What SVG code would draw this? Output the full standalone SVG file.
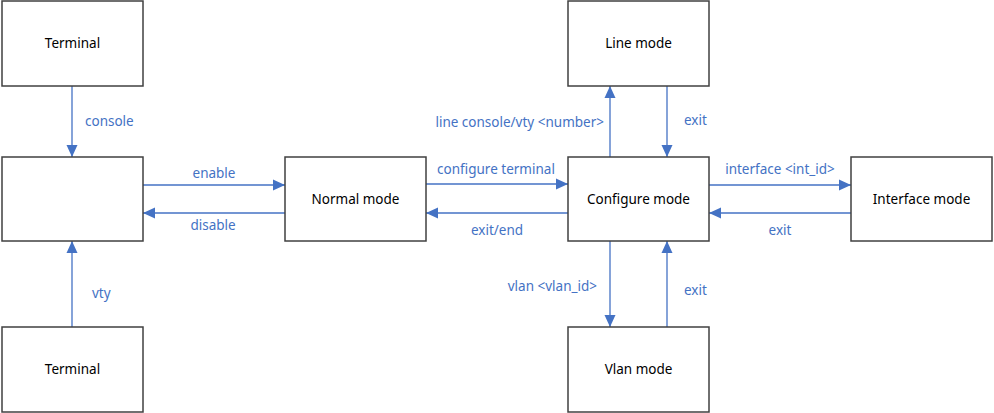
<svg xmlns="http://www.w3.org/2000/svg" width="994" height="413" viewBox="0 0 994 413">
<defs>
<marker id="ah" markerWidth="12" markerHeight="12" viewBox="0 0 12 12" refX="12" refY="6" orient="auto" markerUnits="userSpaceOnUse">
<path d="M0,0.5 L12,6 L0,11.5 Z" fill="#4472C4"/>
</marker>
<style>
.box{fill:#FFFFFF;stroke:#404040;stroke-width:1.5}
.nl{font-family:"Segoe UI","Noto Sans","Open Sans",sans-serif;font-size:13.5px;fill:#000000;text-anchor:middle}
.el{font-family:"Segoe UI","Noto Sans","Open Sans",sans-serif;font-size:13.5px;fill:#4472C4}
.cn{stroke:#4472C4;stroke-width:1.3;fill:none;marker-end:url(#ah)}
</style>
</defs>
<rect width="994" height="413" fill="#FFFFFF"/>
<g id="connectors">
<line class="cn" x1="72" y1="86" x2="72" y2="157"/>
<text class="el" x="85" y="126">console</text>
<line class="cn" x1="72" y1="327" x2="72" y2="241"/>
<text class="el" x="92" y="298">vty</text>
<line class="cn" x1="143" y1="185" x2="285" y2="185"/>
<text class="el" x="214" y="178" text-anchor="middle">enable</text>
<line class="cn" x1="285" y1="213" x2="143" y2="213"/>
<text class="el" x="213" y="230" text-anchor="middle">disable</text>
<line class="cn" x1="426" y1="184" x2="568" y2="184"/>
<text class="el" x="496" y="174" text-anchor="middle">configure terminal</text>
<line class="cn" x1="568" y1="213" x2="426" y2="213"/>
<text class="el" x="497" y="235" text-anchor="middle">exit/end</text>
<line class="cn" x1="610" y1="157" x2="610" y2="86"/>
<text class="el" x="604" y="127" text-anchor="end">line console/vty &lt;number&gt;</text>
<line class="cn" x1="667" y1="86" x2="667" y2="157"/>
<text class="el" x="684" y="125">exit</text>
<line class="cn" x1="709" y1="185" x2="851" y2="185"/>
<text class="el" x="780" y="174" text-anchor="middle">interface &lt;int_id&gt;</text>
<line class="cn" x1="851" y1="213" x2="709" y2="213"/>
<text class="el" x="780" y="235" text-anchor="middle">exit</text>
<line class="cn" x1="610" y1="241" x2="610" y2="327"/>
<text class="el" x="597" y="291" text-anchor="end">vlan &lt;vlan_id&gt;</text>
<line class="cn" x1="667" y1="327" x2="667" y2="241"/>
<text class="el" x="684" y="295">exit</text>
</g>
<g id="terminal-top">
<rect class="box" x="2" y="1" width="141" height="85"/>
<text class="nl" x="72.5" y="48">Terminal</text>
</g>
<g id="access">
<rect class="box" x="2" y="157" width="141" height="84"/>
</g>
<g id="terminal-bottom">
<rect class="box" x="2" y="327" width="141" height="85"/>
<text class="nl" x="72.5" y="374">Terminal</text>
</g>
<g id="normal-mode">
<rect class="box" x="285" y="157" width="141" height="84"/>
<text class="nl" x="355.5" y="204">Normal mode</text>
</g>
<g id="configure-mode">
<rect class="box" x="568" y="157" width="141" height="84"/>
<text class="nl" x="638.5" y="204">Configure mode</text>
</g>
<g id="line-mode">
<rect class="box" x="568" y="1" width="141" height="85"/>
<text class="nl" x="638.5" y="48">Line mode</text>
</g>
<g id="interface-mode">
<rect class="box" x="851" y="157" width="141" height="84"/>
<text class="nl" x="921.5" y="204">Interface mode</text>
</g>
<g id="vlan-mode">
<rect class="box" x="568" y="327" width="141" height="85"/>
<text class="nl" x="638.5" y="374">Vlan mode</text>
</g>
</svg>
